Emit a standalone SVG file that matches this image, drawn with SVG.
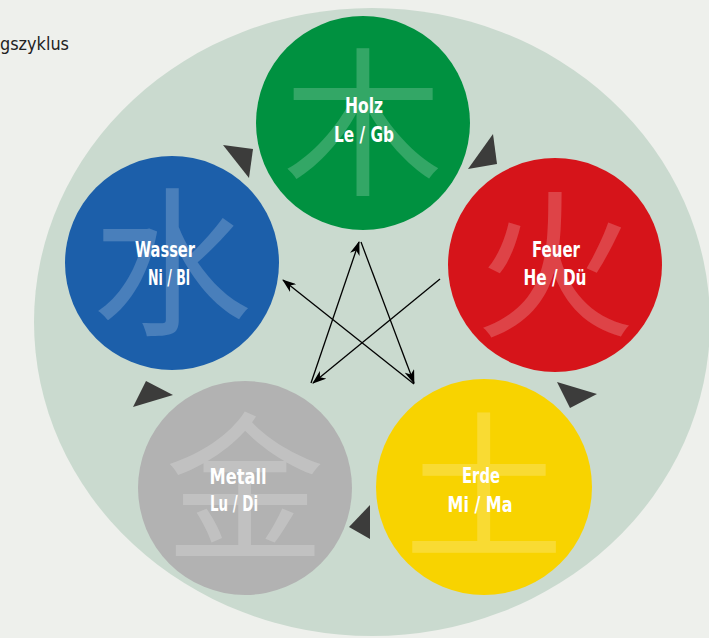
<svg xmlns="http://www.w3.org/2000/svg" width="709" height="638" viewBox="0 0 709 638">
<style>
.lbl{font-family:"DejaVu Sans","Liberation Sans Narrow",sans-serif;font-stretch:condensed;font-weight:bold;font-size:21px;fill:#ffffff;text-anchor:middle}
.cjk{font-family:"Noto Sans CJK SC","Noto Sans CJK JP",sans-serif;font-size:160px;fill:#ffffff;fill-opacity:0.2;text-anchor:middle}
.tri{fill:#3c3c3b}
.ln{stroke:#000;stroke-width:1.3;fill:none;marker-end:url(#ah)}
.ttl{font-family:"DejaVu Sans","Liberation Sans Narrow",sans-serif;font-stretch:condensed;font-size:18px;fill:#222}
</style>
<defs>
<marker id="ah" viewBox="0 0 14 10" refX="13" refY="5" markerWidth="14" markerHeight="10" markerUnits="userSpaceOnUse" orient="auto">
<path d="M0,0 L14,5 L0,10 L4,5 Z" fill="#000"/>
</marker>
</defs>
<rect width="709" height="638" fill="#eef0ec"/>
<ellipse cx="372" cy="322" rx="338" ry="314" fill="#cadacf"/>
<text class="ttl" x="0" y="50" textLength="69" lengthAdjust="spacingAndGlyphs">gszyklus</text>
<g id="holz">
<circle cx="363" cy="123" r="107" fill="#009140"/>
<text class="cjk" x="363" y="183">木</text>
<text class="lbl" x="364" y="113" textLength="38" lengthAdjust="spacingAndGlyphs">Holz</text>
<text class="lbl" x="364" y="142" textLength="60" lengthAdjust="spacingAndGlyphs">Le / Gb</text>
</g>
<g id="feuer">
<circle cx="555" cy="265" r="107" fill="#d6141a"/>
<text class="cjk" x="555" y="325">火</text>
<text class="lbl" x="556" y="257" textLength="48" lengthAdjust="spacingAndGlyphs">Feuer</text>
<text class="lbl" x="555" y="285" textLength="63" lengthAdjust="spacingAndGlyphs">He / Dü</text>
</g>
<g id="erde">
<circle cx="484" cy="487" r="108" fill="#f8d300"/>
<text class="cjk" x="484" y="547">土</text>
<text class="lbl" x="481" y="483" textLength="38" lengthAdjust="spacingAndGlyphs">Erde</text>
<text class="lbl" x="480" y="512" textLength="65" lengthAdjust="spacingAndGlyphs">Mi / Ma</text>
</g>
<g id="metall">
<circle cx="245" cy="488" r="107" fill="#b2b2b2"/>
<text class="cjk" x="245" y="548">金</text>
<text class="lbl" x="238" y="484" textLength="57" lengthAdjust="spacingAndGlyphs">Metall</text>
<text class="lbl" x="234" y="511" textLength="48" lengthAdjust="spacingAndGlyphs">Lu / Di</text>
</g>
<g id="wasser">
<circle cx="172" cy="263" r="107" fill="#1c5faa"/>
<text class="cjk" x="172" y="323">水</text>
<text class="lbl" x="165" y="257" textLength="60" lengthAdjust="spacingAndGlyphs">Wasser</text>
<text class="lbl" x="169" y="285" textLength="42" lengthAdjust="spacingAndGlyphs">Ni / Bl</text>
</g>
<g id="connectors">
<polygon class="tri" points="223,145 253,149 249,178"/>
<polygon class="tri" points="493,134 497,164 468,169"/>
<polygon class="tri" points="557,382 597,394 570,408"/>
<polygon class="tri" points="370,505 370,539 349,527"/>
<polygon class="tri" points="146,381 173,395 133,407"/>
<line class="ln" x1="311" y1="383" x2="359" y2="242"/>
<line class="ln" x1="361" y1="242" x2="414" y2="383"/>
<line class="ln" x1="440" y1="279" x2="313" y2="383"/>
<line class="ln" x1="414" y1="384" x2="283" y2="280"/>
</g>
</svg>
